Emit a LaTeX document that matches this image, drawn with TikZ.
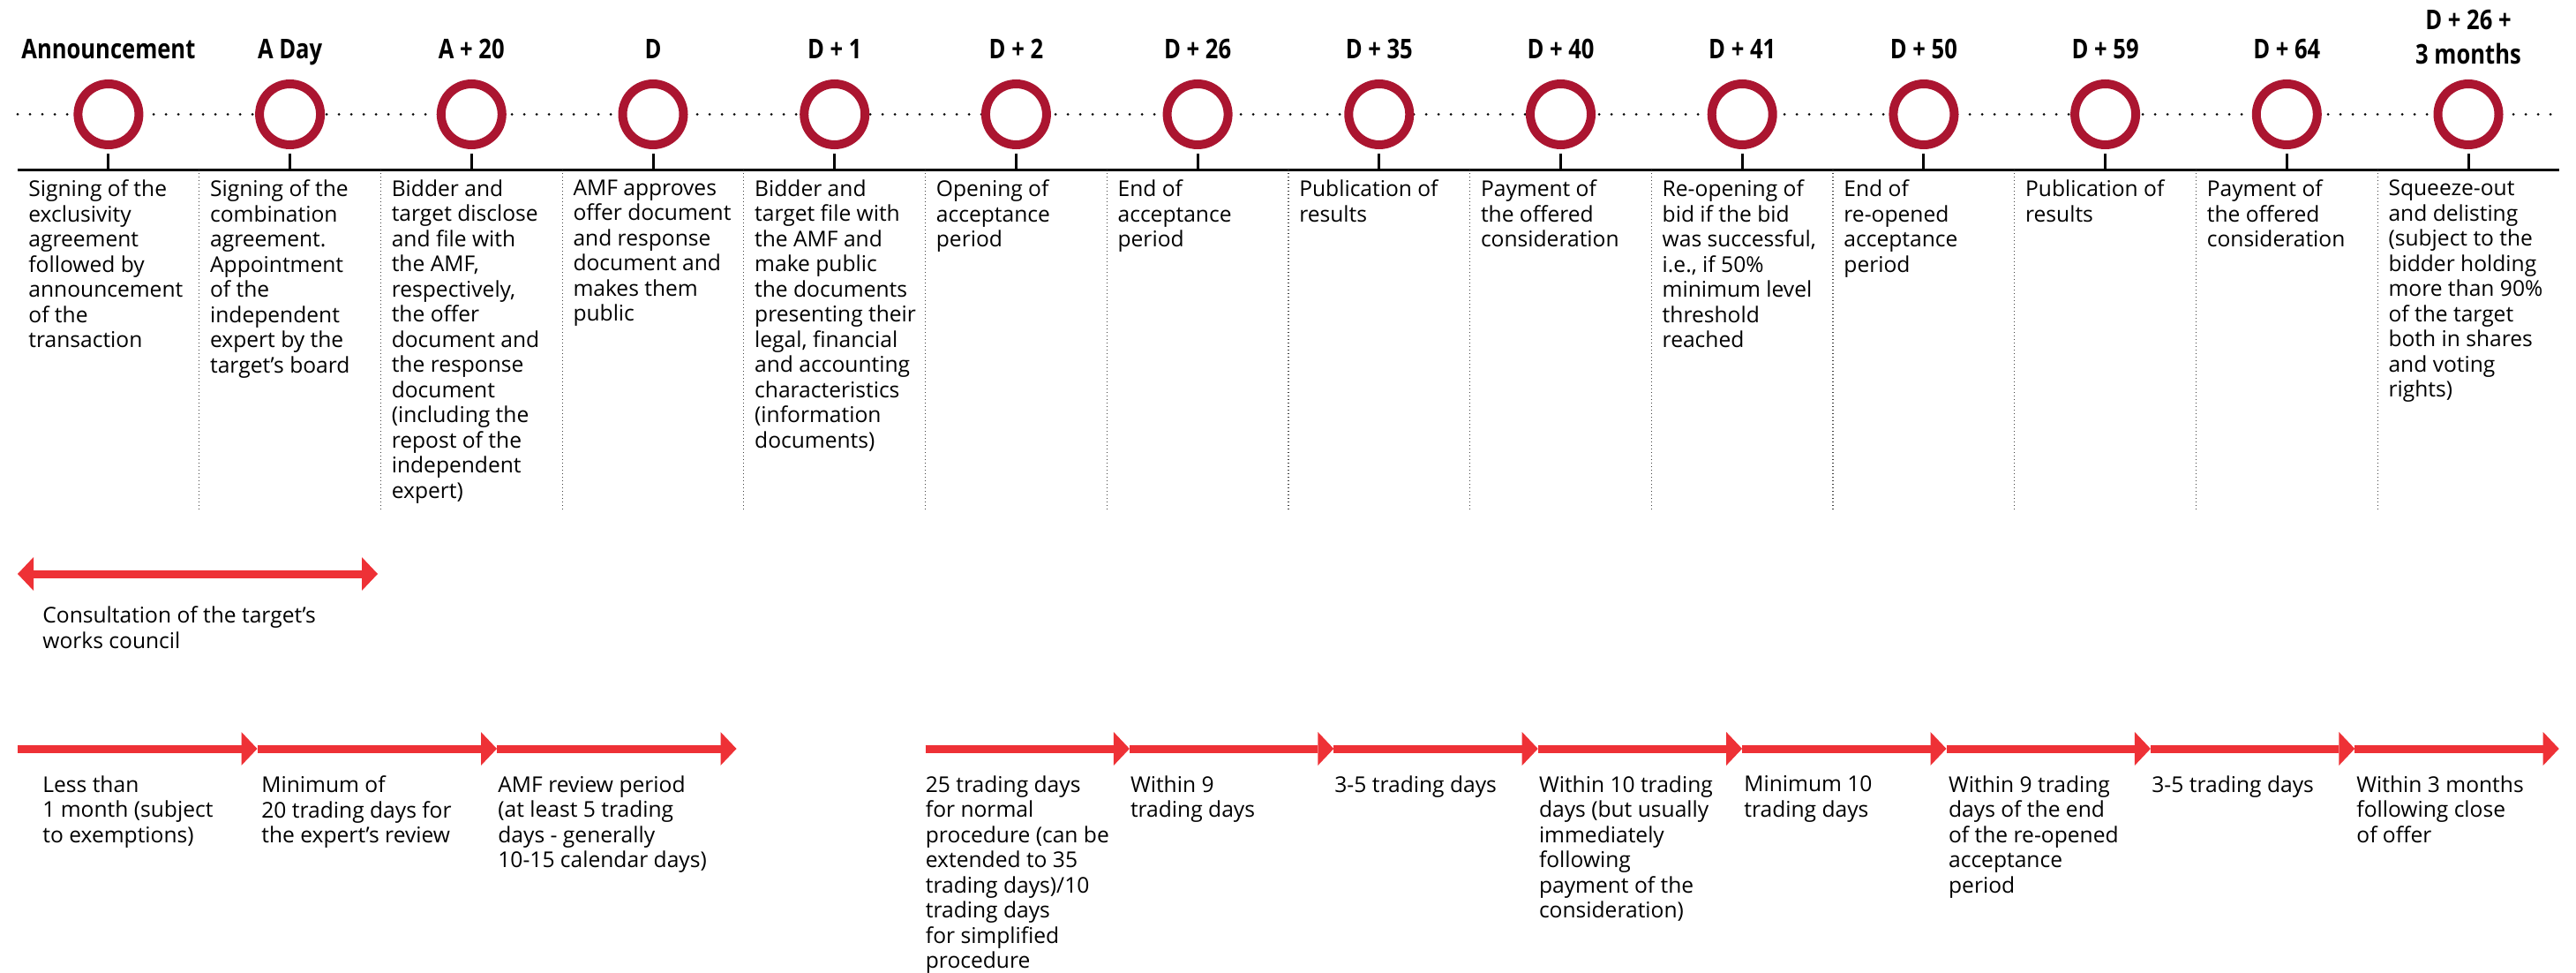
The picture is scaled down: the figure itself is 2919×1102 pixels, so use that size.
\documentclass[tikz,border=0pt]{standalone}
\usepackage{fontspec}
\setmainfont{Open Sans}
\newfontfamily\stagefont{Open Sans}[FakeStretch=0.83]
\usetikzlibrary{arrows.meta,positioning}
\definecolor{ringred}{RGB}{171,21,48}
\definecolor{lapsered}{RGB}{238,49,54}

\begin{document}
\begin{tikzpicture}[x=0.5pt,y=-0.5pt,node distance=102.85pt,
  ring/.style={circle,draw=ringred,line width=5pt,fill=white,minimum size=34.5pt,inner sep=0pt},
  stage/.style={anchor=base,align=center,inner sep=0pt,font={\stagefont\bfseries\fontsize{15.4pt}{19.5pt}\selectfont}},
  desc/.style={anchor=north west,align=left,inner sep=0pt,font={\fontsize{12.3pt}{14.25pt}\selectfont}},
  dotline/.style={line width=1.5pt,line cap=round,dash pattern=on 0pt off 7pt},
  stem/.style={line width=1.5pt,shorten <=2.5pt},
  sep/.style={line width=0.6pt,black!75,dash pattern=on 0.6pt off 1.4pt},
  lapse/.style={line width=4.5pt,lapsered,-{Triangle[length=9pt,width=19pt,line width=0pt]}},
  twoway/.style={line width=4.5pt,lapsered,{Triangle[length=9pt,width=19pt,line width=0pt]}-{Triangle[length=9pt,width=19pt,line width=0pt]}}]
\useasboundingbox (0,0) rectangle (2919,1102);

% timeline
\coordinate (dl) at (20,129.5);
\coordinate (dr) at (2903,129.5);
\coordinate (bl) at (20,192);
\coordinate (br) at (2900,192);
\coordinate (tl) at (0,67);
\coordinate (tt) at (0,73);
\draw[dotline] (dl) -- (dr);
\draw[line width=1.5pt] (bl) -- (br);

\node[ring] (c1) at (122.9,129.5) {};
\node[ring] (c2) [right of=c1] {};
\node[ring] (c3) [right of=c2] {};
\node[ring] (c4) [right of=c3] {};
\node[ring] (c5) [right of=c4] {};
\node[ring] (c6) [right of=c5] {};
\node[ring] (c7) [right of=c6] {};
\node[ring] (c8) [right of=c7] {};
\node[ring] (c9) [right of=c8] {};
\node[ring] (c10) [right of=c9] {};
\node[ring] (c11) [right of=c10] {};
\node[ring] (c12) [right of=c11] {};
\node[ring] (c13) [right of=c12] {};
\node[ring] (c14) [right of=c13] {};

\path[stem]
(c1) edge (c1 |- bl)
(c2) edge (c2 |- bl)
(c3) edge (c3 |- bl)
(c4) edge (c4 |- bl)
(c5) edge (c5 |- bl)
(c6) edge (c6 |- bl)
(c7) edge (c7 |- bl)
(c8) edge (c8 |- bl)
(c9) edge (c9 |- bl)
(c10) edge (c10 |- bl)
(c11) edge (c11 |- bl)
(c12) edge (c12 |- bl)
(c13) edge (c13 |- bl)
(c14) edge (c14 |- bl);

\node[stage] (t1) at (c1 |- tl) {Announcement};
\node[stage] (t2) at (c2 |- tl) {A Day};
\node[stage] (t3) at (c3 |- tl) {A + 20};
\node[stage] (t4) at (c4 |- tl) {D};
\node[stage] (t5) at (c5 |- tl) {D + 1};
\node[stage] (t6) at (c6 |- tl) {D + 2};
\node[stage] (t7) at (c7 |- tl) {D + 26};
\node[stage] (t8) at (c8 |- tl) {D + 35};
\node[stage] (t9) at (c9 |- tl) {D + 40};
\node[stage] (t10) at (c10 |- tl) {D + 41};
\node[stage] (t11) at (c11 |- tl) {D + 50};
\node[stage] (t12) at (c12 |- tl) {D + 59};
\node[stage] (t13) at (c13 |- tl) {D + 64};
\node[stage] (t14) at (c14 |- tt) {D + 26 +\\3 months};

% column separators
\draw[sep] (225.7,192) -- (225.7,577);
\draw[sep] (431.4,192) -- (431.4,577);
\draw[sep] (637.1,192) -- (637.1,577);
\draw[sep] (842.8,192) -- (842.8,577);
\draw[sep] (1048.5,192) -- (1048.5,577);
\draw[sep] (1254.2,192) -- (1254.2,577);
\draw[sep] (1459.9,192) -- (1459.9,577);
\draw[sep] (1665.6,192) -- (1665.6,577);
\draw[sep] (1871.3,192) -- (1871.3,577);
\draw[sep] (2077,192) -- (2077,577);
\draw[sep] (2282.7,192) -- (2282.7,577);
\draw[sep] (2488.4,192) -- (2488.4,577);
\draw[sep] (2694.1,192) -- (2694.1,577);

% events
\node[desc] (d1) at (32,203.3) {Signing of the\\exclusivity\\agreement\\followed by\\announcement\\of the\\transaction};
\node[desc] (d2) at (237.7,203.3) {Signing of the\\combination\\agreement.\\Appointment\\of the\\independent\\expert by the\\target’s board};
\node[desc] (d3) at (443.4,203.3) {Bidder and\\target disclose\\and file with\\the AMF,\\respectively,\\the offer\\document and\\the response\\document\\(including the\\repost of the\\independent\\expert)};
\node[desc] (d4) at (649.1,203.3) {AMF approves\\offer document\\and response\\document and\\makes them\\public};
\node[desc] (d5) at (854.8,203.3) {Bidder and\\target file with\\the AMF and\\make public\\the documents\\presenting their\\legal, financial\\and accounting\\characteristics\\(information\\documents)};
\node[desc] (d6) at (1060.5,203.3) {Opening of\\acceptance\\period};
\node[desc] (d7) at (1266.2,203.3) {End of\\acceptance\\period};
\node[desc] (d8) at (1471.9,203.3) {Publication of\\results};
\node[desc] (d9) at (1677.6,203.3) {Payment of\\the offered\\consideration};
\node[desc] (d10) at (1883.3,203.3) {Re-opening of\\bid if the bid\\was successful,\\i.e., if 50\%\\minimum level\\threshold\\reached};
\node[desc] (d11) at (2089,203.3) {End of\\re-opened\\acceptance\\period};
\node[desc] (d12) at (2294.7,203.3) {Publication of\\results};
\node[desc] (d13) at (2500.4,203.3) {Payment of\\the offered\\consideration};
\node[desc] (d14) at (2706.1,203.3) {Squeeze-out\\and delisting\\(subject to the\\bidder holding\\more than 90\%\\of the target\\both in shares\\and voting\\rights)};

% works council
\coordinate (w0) at (20,650);
\coordinate (w1) at (428,650);
\draw[twoway] (w0) -- (w1);
\node[desc] (wc) at (48,686.3) {Consultation of the target’s\\works council};

% periods
\coordinate (a0) at (20,848);
\coordinate[right=135.75pt of a0] (a1);
\coordinate[right=135.75pt of a1] (a2);
\coordinate[right=135.75pt of a2] (a3);
\draw[lapse] (a0) -- (a1);
\draw[lapse] (a1) -- (a2);
\draw[lapse] (a2) -- (a3);

\coordinate (b0) at (1048.5,848);
\coordinate[right=115.7pt of b0] (b1);
\coordinate[right=115.7pt of b1] (b2);
\coordinate[right=115.7pt of b2] (b3);
\coordinate[right=115.7pt of b3] (b4);
\coordinate[right=115.7pt of b4] (b5);
\coordinate[right=115.7pt of b5] (b6);
\coordinate[right=115.7pt of b6] (b7);
\coordinate[right=115.7pt of b7] (b8);
\draw[lapse] (b0) -- (b1);
\draw[lapse] (b1) -- (b2);
\draw[lapse] (b2) -- (b3);
\draw[lapse] (b3) -- (b4);
\draw[lapse] (b4) -- (b5);
\draw[lapse] (b5) -- (b6);
\draw[lapse] (b6) -- (b7);
\draw[lapse] (b7) -- (b8);

\node[desc] (p1) at (48,878.3) {Less than\\1 month (subject\\to exemptions)};
\node[desc] (p2) at (296,878.3) {Minimum of\\20 trading days for\\the expert’s review};
\node[desc] (p3) at (564,878.3) {AMF review period\\(at least 5 trading\\days - generally\\10-15 calendar days)};
\node[desc] (p4) at (1048.5,878.3) {25 trading days\\for normal\\procedure (can be\\extended to 35\\trading days)/10\\trading days\\for simplified\\procedure};
\node[desc] (p5) at (1280.6,878.3) {Within 9\\trading days};
\node[desc] (p6) at (1512,878.3) {3-5 trading days};
\node[desc] (p7) at (1743.6,878.3) {Within 10 trading\\days (but usually\\immediately\\following\\payment of the\\consideration)};
\node[desc] (p8) at (1976,878.3) {Minimum 10\\trading days};
\node[desc] (p9) at (2207.7,878.3) {Within 9 trading\\days of the end\\of the re-opened\\acceptance\\period};
\node[desc] (p10) at (2438,878.3) {3-5 trading days};
\node[desc] (p11) at (2670,878.3) {Within 3 months\\following close\\of offer};
\end{tikzpicture}
\end{document}
